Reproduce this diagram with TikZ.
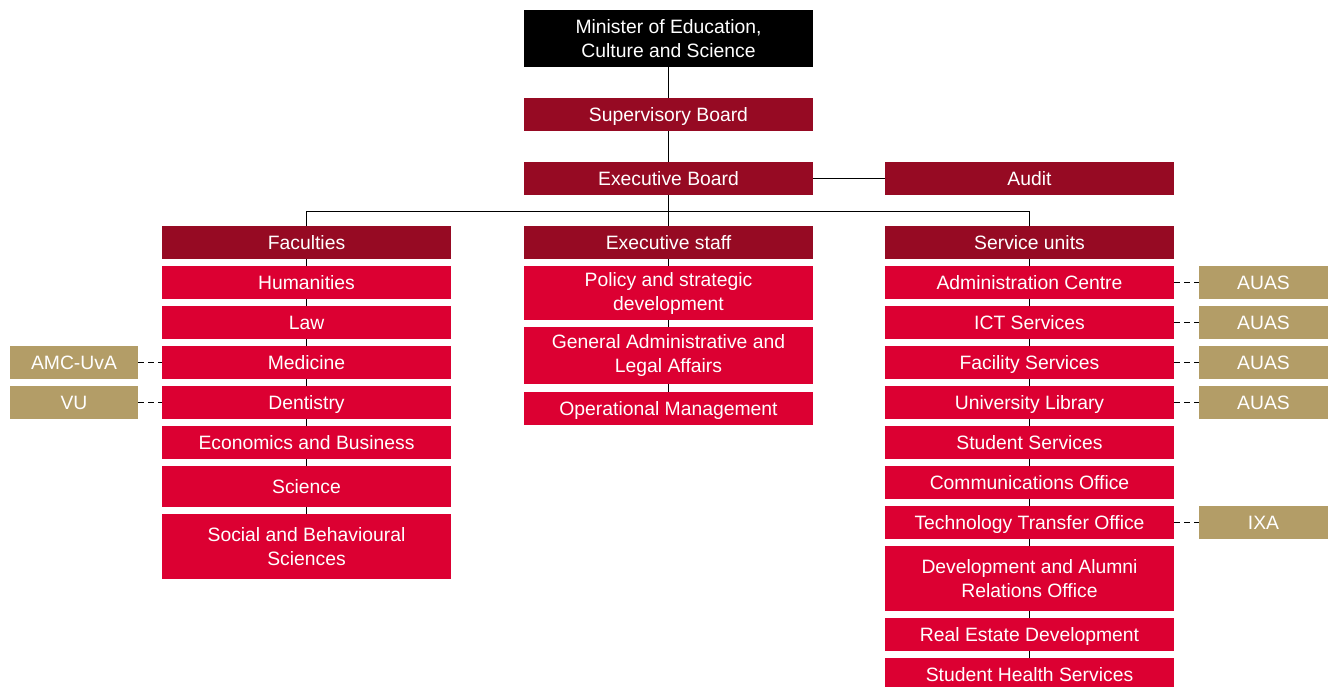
\documentclass[tikz,border=0pt]{standalone}
\usepackage{fontspec}
\setmainfont{Liberation Sans}
\usetikzlibrary{backgrounds}
\definecolor{uvadark}{HTML}{960A23}
\definecolor{uvared}{HTML}{DC0032}
\definecolor{uvagold}{HTML}{B39D67}
\tikzset{
  box/.style={inner sep=0pt, text=white, align=center, font=\fontsize{14.5}{18}\selectfont},
  one/.style={text height=10.4pt, text depth=0pt},
  topbox/.style={box, fill=black},
  headbox/.style={box, fill=uvadark},
  unitbox/.style={box, fill=uvared},
  partbox/.style={box, fill=uvagold},
  link/.style={draw=black, line width=0.75pt},
  dlink/.style={draw=black, line width=0.75pt, dash pattern=on 4.5pt off 3pt},
}
% \bx{name}{style}{x1}{y1}{x2}{y2}{text}
\newcommand{\bx}[7]{\node[#2, minimum width={(#5-#3)*0.75pt}, minimum height={(#6-#4)*0.75pt}] (#1) at ({(#3+#5)/2},{(#4+#6)/2}) {#7};}
\begin{document}
\begin{tikzpicture}[x=0.75pt,y=-0.75pt]
\useasboundingbox (0,0) rectangle (1328,686);
% top
\bx{min}{topbox}{524}{10}{813}{67}{Minister of Education,\\Culture and Science}
\bx{sup}{headbox,one}{524}{98}{813}{131}{Supervisory Board}
\bx{exb}{headbox,one}{524}{162}{813}{195}{Executive Board}
\bx{aud}{headbox,one}{885}{162}{1174}{195}{Audit}
% headers
\bx{fac}{headbox,one}{162}{226}{451}{259}{Faculties}
\bx{exs}{headbox,one}{524}{226}{813}{259}{Executive staff}
\bx{ser}{headbox,one}{885}{226}{1174}{259}{Service units}
% faculties
\bx{hum}{unitbox,one}{162}{266}{451}{299}{Humanities}
\bx{law}{unitbox,one}{162}{306}{451}{339}{Law}
\bx{med}{unitbox,one}{162}{346}{451}{379}{Medicine}
\bx{den}{unitbox,one}{162}{386}{451}{419}{Dentistry}
\bx{eco}{unitbox,one}{162}{426}{451}{459}{Economics and Business}
\bx{sci}{unitbox,one}{162}{466}{451}{507}{Science}
\bx{soc}{unitbox}{162}{514}{451}{579}{Social and Behavioural\\Sciences}
% executive staff
\bx{pol}{unitbox}{524}{266}{813}{320}{Policy and strategic\\development}
\bx{gen}{unitbox}{524}{327}{813}{384}{General Administrative and\\Legal Affairs}
\bx{ope}{unitbox,one}{524}{392}{813}{425}{Operational Management}
% service units
\bx{adm}{unitbox,one}{885}{266}{1174}{299}{Administration Centre}
\bx{ict}{unitbox,one}{885}{306}{1174}{339}{ICT Services}
\bx{fcs}{unitbox,one}{885}{346}{1174}{379}{Facility Services}
\bx{lib}{unitbox,one}{885}{386}{1174}{419}{University Library}
\bx{sts}{unitbox,one}{885}{426}{1174}{459}{Student Services}
\bx{com}{unitbox,one}{885}{466}{1174}{499}{Communications Office}
\bx{tto}{unitbox,one}{885}{506}{1174}{539}{Technology Transfer Office}
\bx{dev}{unitbox}{885}{546}{1174}{611}{Development and Alumni\\Relations Office}
\bx{red}{unitbox,one}{885}{618}{1174}{651}{Real Estate Development}
\bx{shs}{unitbox,one}{885}{658}{1174}{691}{Student Health Services}
% partners
\bx{amc}{partbox,one}{10}{346}{138}{379}{AMC-UvA}
\bx{vu}{partbox,one}{10}{386}{138}{419}{VU}
\bx{au1}{partbox,one}{1199}{266}{1328}{299}{AUAS}
\bx{au2}{partbox,one}{1199}{306}{1328}{339}{AUAS}
\bx{au3}{partbox,one}{1199}{346}{1328}{379}{AUAS}
\bx{au4}{partbox,one}{1199}{386}{1328}{419}{AUAS}
\bx{ixa}{partbox,one}{1199}{506}{1328}{539}{IXA}
\begin{scope}[on background layer]
  \coordinate (bar) at (0,211);
  \path[link] (min.south) -- (exs.north);
  \path[link] (exb.east) -- (aud.west);
  \path[link] (fac.north) -- (fac.north |- bar) -- (ser.north |- bar) -- (ser.north);
  \path[link] (fac.center) -- (soc.center);
  \path[link] (exs.center) -- (ope.center);
  \path[link] (ser.center) -- (shs.center);
  \path[dlink] (amc.east) -- (med.west);
  \path[dlink] (vu.east) -- (den.west);
  \path[dlink] (adm.east) -- (au1.west);
  \path[dlink] (ict.east) -- (au2.west);
  \path[dlink] (fcs.east) -- (au3.west);
  \path[dlink] (lib.east) -- (au4.west);
  \path[dlink] (tto.east) -- (ixa.west);
\end{scope}
\end{tikzpicture}
\end{document}
